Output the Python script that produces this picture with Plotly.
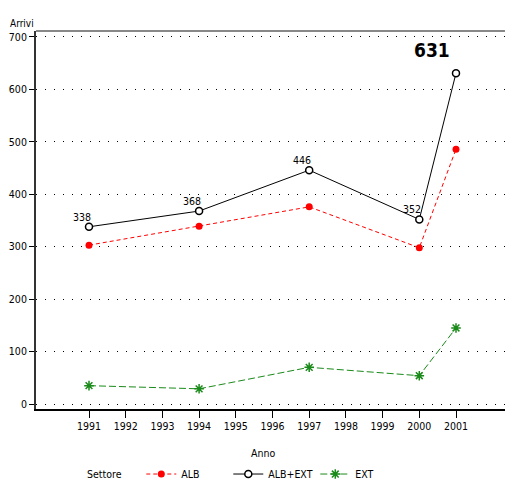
import plotly.graph_objects as go

anni = [1991, 1994, 1997, 2000, 2001]
alb = [303, 339, 376, 298, 486]
alb_ext = [338, 368, 446, 352, 631]
ext = [35, 29, 70, 54, 145]
x_ticks = list(range(1991, 2002))
x_minor = [1991 + i * 0.2 for i in range(51)]
y_ticks = list(range(0, 701, 100))
y_minor = list(range(0, 701, 10))

FONT = "DejaVu Sans Condensed, Liberation Sans Narrow, sans-serif"
TF = dict(size=10.5, family=FONT, color="black")
X_RANGE = [1989.556, 2002.335]
Y_RANGE = [-9.5, 711.4]

fig = go.Figure()
fig.add_trace(go.Scatter(x=anni, y=alb, name="ALB", mode="lines+markers",
                         line=dict(color="red", width=1, dash="4px,3px"),
                         marker=dict(color="red", size=7, symbol="circle")))
fig.add_trace(go.Scatter(x=anni, y=alb_ext, name="ALB+EXT", mode="lines+markers",
                         line=dict(color="black", width=1),
                         marker=dict(color="white", size=7, symbol="circle",
                                     line=dict(color="black", width=1.5))))
fig.add_trace(go.Scatter(x=anni, y=ext, name="EXT", mode="lines+markers",
                         line=dict(color="#1a8a1a", width=1, dash="7px,3px"),
                         marker=dict(color="#1a8a1a", size=8, symbol="asterisk-open",
                                     line=dict(color="#1a8a1a", width=1.5))))

for xv, yv in zip(anni[:-1], alb_ext[:-1]):
    fig.add_annotation(x=xv, y=yv, text=str(yv), showarrow=False,
                       xshift=-7, yshift=10, font=TF)
fig.add_annotation(x=2000.35, y=676, text="<b>631</b>", showarrow=False,
                   font=dict(size=19, family=FONT, color="black"))

fig.add_annotation(x=-0.03, y=1.0, xref="paper", yref="paper", text="Arrivi",
                   showarrow=False, xanchor="center", yanchor="bottom",
                   font=dict(size=10, family=FONT, color="black"))
fig.add_annotation(x=0.484, y=-0.116, xref="paper", yref="paper", text="Anno",
                   showarrow=False, xanchor="center", yanchor="middle", font=TF)
fig.add_annotation(x=0.147, y=-0.172, xref="paper", yref="paper", text="Settore",
                   showarrow=False, xanchor="center", yanchor="middle", font=TF)

fig.add_shape(type="line", xref="paper", yref="paper", x0=0, x1=1, y0=1, y1=1,
              line=dict(color="#888888", width=2))

fig.update_layout(
    xaxis=dict(range=X_RANGE, tickmode="array", tickvals=x_ticks,
               ticks="outside", ticklen=7, tickwidth=1, tickcolor="black",
               showline=True, linecolor="black", linewidth=1.5, showgrid=False,
               zeroline=False, automargin=False, tickfont=TF),
    xaxis2=dict(range=X_RANGE, overlaying="x", anchor="y", side="bottom",
                tickmode="array", tickvals=x_minor, ticks="outside", ticklen=4,
                tickwidth=1, tickcolor="black", showticklabels=False,
                showline=False, showgrid=False, zeroline=False, automargin=False),
    yaxis=dict(range=Y_RANGE, tickmode="array", tickvals=y_ticks,
               ticks="outside", ticklen=5, tickwidth=1, tickcolor="black",
               showline=True, linecolor="#333333", linewidth=2,
               showgrid=True, gridcolor="black", gridwidth=1, griddash="1px,8px",
               zeroline=False, automargin=False, tickfont=TF),
    yaxis2=dict(range=Y_RANGE, overlaying="y", anchor="x", side="left",
                tickmode="array", tickvals=y_minor, ticks="outside", ticklen=3,
                tickwidth=1, tickcolor="black", showticklabels=False,
                showline=False, showgrid=False, zeroline=False, automargin=False),
    width=505, height=480,
    margin=dict(l=36, r=0, t=31, b=71, autoexpand=False),
    paper_bgcolor="white", plot_bgcolor="white",
    font=dict(family=FONT, size=10.5, color="black"),
    showlegend=True,
    legend=dict(orientation="h", x=0.2245, xanchor="left", y=-0.172,
                yanchor="middle", entrywidth=42, font=TF),
)

fig.write_html("out.html", config={"displayModeBar": False},
               post_script="document.body.style.margin='0';"
                           "document.body.style.overflow='hidden';")
